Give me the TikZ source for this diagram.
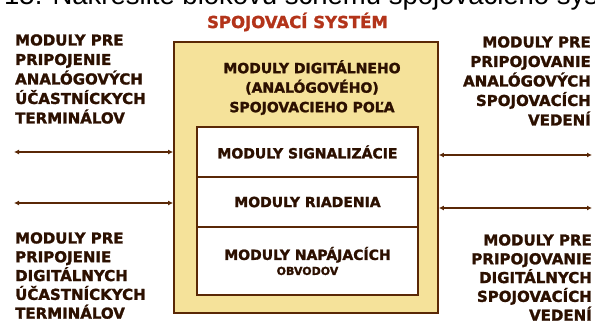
\documentclass[tikz,border=0pt]{standalone}
\usepackage{fontspec}
\setmainfont{DejaVu Sans}[BoldFeatures={FakeBold=1.6}]
\newfontfamily\arialfont{Liberation Sans}
\usetikzlibrary{arrows.meta}
\definecolor{ink}{HTML}{2C1000}
\definecolor{titlered}{HTML}{B3341A}
\definecolor{sysfill}{HTML}{F5E29A}
\definecolor{edge}{HTML}{5A2806}
\begin{document}
\begin{tikzpicture}[x=1pt,y={(0pt,-1pt)},
  lbl/.style={font=\bfseries\fontsize{15}{19.5}\selectfont, text=ink, inner sep=0pt},
  lblb/.style={font=\bfseries\fontsize{15}{18.8}\selectfont, text=ink, inner sep=0pt},
  cell/.style={draw=edge, line width=1.6pt, fill=white, minimum width=221pt, inner sep=0pt,
    font=\bfseries\fontsize{14}{18}\selectfont, text=ink, align=center},
  conn/.style={draw=edge, line width=1.2pt, >={Latex[length=5pt,width=5pt]}, <->}]
\useasboundingbox (0,0) rectangle (595,325);
% top (cut) question line
\node[font=\arialfont\fontsize{27.5}{27.5}\selectfont, anchor=base west, inner sep=0pt, text=black] (q) at (4,4.5) {15. Nakreslite blokovú schému spojovacieho systému};
% title
\node[font=\bfseries\fontsize{16.5}{16.5}\selectfont, text=titlered, anchor=base, inner sep=0pt] (ttl) at (297.5,28) {SPOJOVACÍ SYSTÉM};
% outer system box
\node[draw=edge, line width=1.8pt, fill=sysfill, minimum width=264pt, minimum height=271pt, inner sep=0pt] (sys) at (306,177.5) {};
\node[font=\bfseries\fontsize{14}{19.5}\selectfont, text=ink, align=center, anchor=north, inner sep=0pt] (hd) at (312,60) {MODULY DIGITÁLNEHO\\(ANALÓGOVÉHO)\\SPOJOVACIEHO POĽA};
% inner module boxes
\node[cell, minimum height=50pt] (sig) at (307.5,152) {MODULY SIGNALIZÁCIE};
\node[cell, minimum height=50pt] (ria) at (307.5,202) {MODULY RIADENIA};
\node[cell, minimum height=68pt] (nap) at (307.5,261) {MODULY NAPÁJACÍCH\\[-3pt]{\fontsize{11}{11}\selectfont OBVODOV}};
% side labels
\node[lbl, anchor=north west, align=left] (tl) at (15,34.1) {MODULY PRE\\PRIPOJENIE\\ANALÓGOVÝCH\\ÚČASTNÍCKYCH\\TERMINÁLOV};
\node[lblb, anchor=north west, align=left] (bl) at (15,232.1) {MODULY PRE\\PRIPOJENIE\\DIGITÁLNYCH\\ÚČASTNÍCKYCH\\TERMINÁLOV};
\node[lbl, anchor=north east, align=right] (tr) at (591,36.1) {MODULY PRE\\PRIPOJOVANIE\\ANALÓGOVÝCH\\SPOJOVACÍCH\\VEDENÍ};
\node[lblb, anchor=north east, align=right] (br) at (592,234.1) {MODULY PRE\\PRIPOJOVANIE\\DIGITÁLNYCH\\SPOJOVACÍCH\\VEDENÍ};
% connectors
\coordinate (l1) at (14,152);
\coordinate (l2) at (14,203);
\coordinate (r1) at (592,155);
\coordinate (r2) at (592,208);
\draw[conn] (l1) -- (sys.west |- l1);
\draw[conn] (l2) -- (sys.west |- l2);
\draw[conn] (sys.east |- r1) -- (r1);
\draw[conn] (sys.east |- r2) -- (r2);
\end{tikzpicture}
\end{document}
